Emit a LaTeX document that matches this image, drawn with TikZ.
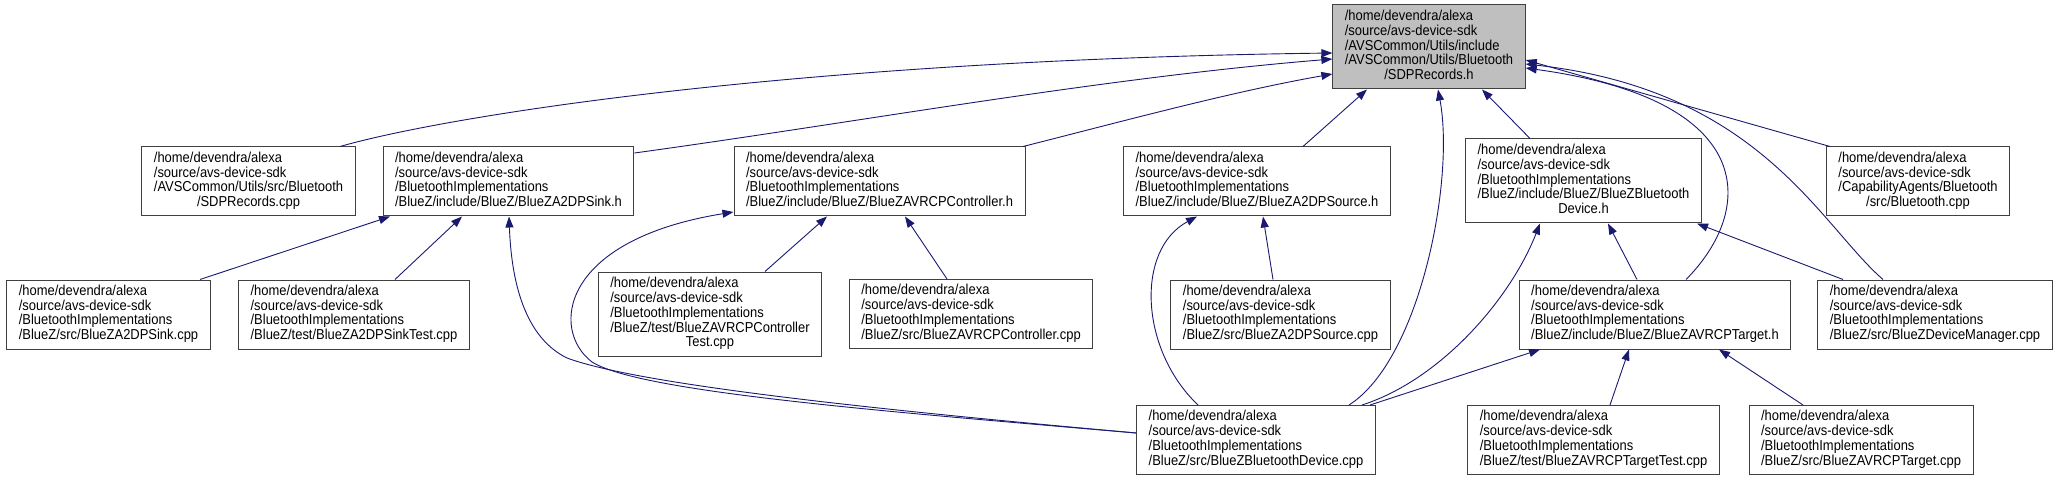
\documentclass[tikz,border=0pt]{standalone}
\usepackage{fontspec}
\setmainfont{Liberation Sans}[FakeStretch=0.9]
\usepackage{xcolor}
\usepackage{tikz}
\usetikzlibrary{arrows.meta}
\definecolor{edgec}{HTML}{191970}
\definecolor{framec}{HTML}{404040}
\definecolor{rootc}{HTML}{BFBFBF}
\newcommand{\fsz}{\fontsize{14.4}{14.3}\selectfont}
\newcommand{\ftx}[2]{\begin{tabular}{@{}l@{}}/home/devendra/alexa\\/source/avs-device-sdk\\#1\\\multicolumn{1}{@{}c@{}}{#2}\end{tabular}}
\tikzset{
  box/.style={draw=framec,line width=1pt,fill=white,inner xsep=12pt,inner ysep=0pt,minimum height=69pt,font=\fsz},
  boxt/.style={box,minimum height=84pt},
  ar/.style={-{Triangle[length=11pt,width=8pt]},edgec,line width=0.9pt}
}
\begin{document}
\begin{tikzpicture}[x=1pt,y=-1pt]
\useasboundingbox (0,0) rectangle (2059,481);
\node[boxt,fill=rootc] (root) at (1429,47) {\ftx{/AVSCommon/Utils/include\\/AVSCommon/Utils/Bluetooth}{/SDPRecords.h}};
\node[box] (sdpcpp) at (248.5,181.5) {\ftx{/AVSCommon/Utils/src/Bluetooth}{/SDPRecords.cpp}};
\node[box] (sinkh) at (508.5,181.5) {\ftx{/BluetoothImplementations}{/BlueZ/include/BlueZ/BlueZA2DPSink.h}};
\node[box] (ctrlh) at (879.5,181.5) {\ftx{/BluetoothImplementations}{/BlueZ/include/BlueZ/BlueZAVRCPController.h}};
\node[box] (srch) at (1257,181.5) {\ftx{/BluetoothImplementations}{/BlueZ/include/BlueZ/BlueZA2DPSource.h}};
\node[boxt] (devh) at (1583.5,181) {\ftx{/BluetoothImplementations\\/BlueZ/include/BlueZ/BlueZBluetooth}{Device.h}};
\node[box] (btcpp) at (1918,181.5) {\ftx{/CapabilityAgents/Bluetooth}{/src/Bluetooth.cpp}};
\node[box] (sinkcpp) at (108.5,314.5) {\ftx{/BluetoothImplementations}{/BlueZ/src/BlueZA2DPSink.cpp}};
\node[box] (sinktest) at (354,314.5) {\ftx{/BluetoothImplementations}{/BlueZ/test/BlueZA2DPSinkTest.cpp}};
\node[boxt] (ctrltest) at (710,314) {\ftx{/BluetoothImplementations\\/BlueZ/test/BlueZAVRCPController}{Test.cpp}};
\node[box] (ctrlcpp) at (971,314) {\ftx{/BluetoothImplementations}{/BlueZ/src/BlueZAVRCPController.cpp}};
\node[box] (srccpp) at (1280.5,314.5) {\ftx{/BluetoothImplementations}{/BlueZ/src/BlueZA2DPSource.cpp}};
\node[box] (tgth) at (1655,314.5) {\ftx{/BluetoothImplementations}{/BlueZ/include/BlueZ/BlueZAVRCPTarget.h}};
\node[box] (mgrcpp) at (1935,314.5) {\ftx{/BluetoothImplementations}{/BlueZ/src/BlueZDeviceManager.cpp}};
\node[box] (devcpp) at (1256,440) {\ftx{/BluetoothImplementations}{/BlueZ/src/BlueZBluetoothDevice.cpp}};
\node[box] (tgttest) at (1593.5,440) {\ftx{/BluetoothImplementations}{/BlueZ/test/BlueZAVRCPTargetTest.cpp}};
\node[box] (tgtcpp) at (1861,440) {\ftx{/BluetoothImplementations}{/BlueZ/src/BlueZAVRCPTarget.cpp}};
\draw[ar] ([xshift=91.5pt]sdpcpp.north) .. controls (450,115) and (800,60) .. ([yshift=-6pt]root.west);
\draw[ar] ([yshift=28.5pt]sinkh.east) .. controls (860,122) and (1100,78) .. ([yshift=-12pt]root.west);
\draw[ar] ([xshift=143.5pt]ctrlh.north) .. controls (1120,122) and (1230,92) .. ([yshift=-27pt]root.west);
\draw[ar] ([xshift=46pt]srch.north) -- ([xshift=-62pt]root.south);
\draw[ar] ([xshift=-53.5pt]devh.north) -- ([xshift=53pt]root.south);
\draw[ar] ([xshift=93pt]devcpp.north) .. controls (1420,360) and (1455,180) .. ([xshift=9pt]root.south);
\draw[ar] ([xshift=31pt]tgth.north) .. controls (1755,210) and (1760,100) .. ([yshift=-21pt]root.east);
\draw[ar] ([xshift=-52pt]mgrcpp.north) .. controls (1820,225) and (1760,90) .. ([yshift=-17pt]root.east);
\draw[ar] ([xshift=-88pt]btcpp.north) -- ([yshift=-13pt]root.east);
\draw[ar] ([xshift=91.5pt]sinkcpp.north) -- ([xshift=-118.5pt]sinkh.south);
\draw[ar] ([xshift=41pt]sinktest.north) -- ([xshift=-46.5pt]sinkh.south);
\draw[ar] ([yshift=7pt]devcpp.west) .. controls (880,410) and (640,385) .. (567,358) .. controls (520,335) and (511,270) .. ([xshift=0.5pt]sinkh.south);
\draw[ar] ([yshift=7pt]devcpp.west) .. controls (880,411) and (640,392) .. (592,362) .. controls (550,330) and (560,240) .. ([yshift=-30.5pt]ctrlh.west);
\draw[ar] ([xshift=55pt]ctrltest.north) -- ([xshift=-52.5pt]ctrlh.south);
\draw[ar] ([xshift=-24pt]ctrlcpp.north) -- ([xshift=25.5pt]ctrlh.south);
\draw[ar] ([xshift=-58pt]devcpp.north) .. controls (1140,350) and (1135,250) .. ([xshift=-60pt]srch.south);
\draw[ar] ([xshift=-7.5pt]srccpp.north) -- ([xshift=6pt]srch.south);
\draw[ar] ([xshift=106pt]devcpp.north) .. controls (1440,380) and (1510,300) .. ([xshift=-43.5pt]devh.south);
\draw[ar] ([xshift=-18pt]tgth.north) -- ([xshift=24.5pt]devh.south);
\draw[ar] ([xshift=-92pt]mgrcpp.north) -- ([xshift=113.5pt]devh.south);
\draw[ar] ([xshift=114pt]devcpp.north) -- ([xshift=-115pt]tgth.south);
\draw[ar] ([xshift=16.5pt]tgttest.north) -- ([xshift=-26pt]tgth.south);
\draw[ar] ([xshift=-58pt]tgtcpp.north) -- ([xshift=64pt]tgth.south);
\end{tikzpicture}
\end{document}
